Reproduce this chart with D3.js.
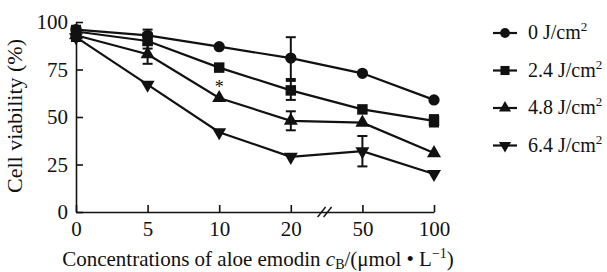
<!DOCTYPE html>
<html>
<head>
<meta charset="utf-8">
<script src="https://cdn.jsdelivr.net/npm/d3@7"></script>
<style>
  body { margin: 0; background: #fff; }
  text { font-family: 'Liberation Serif', 'DejaVu Serif', serif; fill: #111; }
</style>
</head>
<body>
<svg id="chart" width="607" height="272"></svg>
<script>
const concentrations = ['0', '5', '10', '20', '50', '100'];
const seriesNames = ['0', '2.4', '4.8', '6.4'];
const yTicks = [0, 25, 50, 75, 100];

const viability0 = [96, 93, 87, 81, 73, 59];
const viability24 = [95, 90, 76, 64, 54, 48];
const viability48 = [93, 83, 60, 48, 47, 31];
const viability64 = [92, 67, 42, 29, 32, 20];

const error0 = [2, 3, 0, 11, 0, 0];
const error24 = [2, 4, 0, 5, 0, 3];
const error48 = [2, 5, 0, 5, 0, 0];
const error64 = [2, 0, 0, 0, 8, 0];

const series = [
  {name: seriesNames[0], values: viability0, errors: error0, symbol: d3.symbolCircle, size: 100, rot: 0},
  {name: seriesNames[1], values: viability24, errors: error24, symbol: d3.symbolSquare, size: 110, rot: 0},
  {name: seriesNames[2], values: viability48, errors: error48, symbol: d3.symbolTriangle, size: 85, rot: 0},
  {name: seriesNames[3], values: viability64, errors: error64, symbol: d3.symbolTriangle, size: 85, rot: 180}
];

const svg = d3.select('#chart');
const margin = {left: 76, top: 22, right: 173, bottom: 60};
const width = 607 - margin.left - margin.right,
  height = 272 - margin.top - margin.bottom;

const x = d3.scalePoint().domain(concentrations).range([0, width]);
const y = d3.scaleLinear().domain([0, 100]).range([height, 0]);

const g = svg.append('g')
  .attr('transform', 'translate(' + margin.left + ',' + margin.top + ')');

// axes, ticks pointing inward
const xAxis = g.append('g')
  .attr('transform', 'translate(0,' + height + ')')
  .call(d3.axisBottom(x).tickSizeInner(-7).tickSizeOuter(0).tickPadding(9));
const yAxis = g.append('g')
  .call(d3.axisLeft(y).tickValues(yTicks).tickSizeInner(-7).tickSizeOuter(0).tickPadding(8));

[xAxis, yAxis].forEach(function(a) {
  a.select('.domain').attr('stroke', '#111').attr('stroke-width', 1.6);
  a.selectAll('.tick line').attr('stroke', '#111').attr('stroke-width', 1.6);
  a.selectAll('.tick text').style('font-family', "'Liberation Serif', serif").style('font-size', '21px').attr('fill', '#111');
});

// axis break between 20 and 50
const bx = (x('20') + x('50')) / 2 - 2;
[-3, 3].forEach(function(o) {
  g.append('line')
    .attr('x1', bx + o - 4).attr('y1', height + 5)
    .attr('x2', bx + o + 4).attr('y2', height - 5)
    .attr('stroke', '#111').attr('stroke-width', 1.4);
});

const line = d3.line()
  .x(function(d, i) { return x(concentrations[i]); })
  .y(function(d) { return y(d); });

series.forEach(function(s) {
  g.append('path')
    .datum(s.values)
    .attr('fill', 'none')
    .attr('stroke', '#111')
    .attr('stroke-width', 2.2)
    .attr('d', line);

  s.values.forEach(function(v, i) {
    const e = s.errors[i];
    if (e > 0) {
      const cx = x(concentrations[i]);
      g.append('line').attr('x1', cx).attr('x2', cx)
        .attr('y1', y(v + e)).attr('y2', y(v - e))
        .attr('stroke', '#111').attr('stroke-width', 2);
      [v + e, v - e].forEach(function(c) {
        g.append('line').attr('x1', cx - 5).attr('x2', cx + 5)
          .attr('y1', y(c)).attr('y2', y(c))
          .attr('stroke', '#111').attr('stroke-width', 2);
      });
    }
  });

  g.selectAll(null)
    .data(s.values)
    .enter().append('path')
    .attr('d', d3.symbol().type(s.symbol).size(s.size))
    .attr('fill', '#111')
    .attr('transform', function(d, i) {
      return 'translate(' + x(concentrations[i]) + ',' + y(d) + ') rotate(' + s.rot + ')';
    });
});

// significance mark
g.append('text')
  .attr('x', x('10'))
  .attr('y', y((viability24[2] + viability48[2]) / 2) + 10)
  .attr('text-anchor', 'middle')
  .style('font-size', '18px')
  .text('*');

// axis titles
const xt = svg.append('text')
  .attr('x', margin.left + width / 2 + 3)
  .attr('y', 266)
  .attr('text-anchor', 'middle')
  .style('font-size', '21px');
xt.append('tspan').text('Concentrations of aloe emodin ');
xt.append('tspan').style('font-style', 'italic').text('c');
xt.append('tspan').attr('dy', 3).style('font-size', '14px').text('B');
xt.append('tspan').attr('dy', -3).text('/(\u03bcmol \u2022 L');
xt.append('tspan').attr('dy', -8).style('font-size', '14px').text('\u22121');
xt.append('tspan').attr('dy', 8).text(')');

svg.append('text')
  .attr('transform', 'translate(22,' + (margin.top + height / 2 - 1) + ') rotate(-90)')
  .attr('text-anchor', 'middle')
  .style('font-size', '22px')
  .text('Cell viability (%)');

// legend
const legend = svg.append('g').attr('transform', 'translate(493,33)');
series.forEach(function(s, i) {
  const row = legend.append('g').attr('transform', 'translate(0,' + i * 37.5 + ')');
  row.append('line').attr('x1', 0).attr('x2', 24).attr('y1', 0).attr('y2', 0)
    .attr('stroke', '#111').attr('stroke-width', 2.2);
  row.append('path')
    .attr('d', d3.symbol().type(s.symbol).size(s.size * 0.75))
    .attr('fill', '#111')
    .attr('transform', 'translate(12,0) rotate(' + s.rot + ')');
  const t = row.append('text').attr('x', 35).attr('y', 6).style('font-size', '20px');
  t.append('tspan').text(s.name + ' J/cm');
  t.append('tspan').attr('dy', -8).style('font-size', '13px').text('2');
});
</script>
</body>
</html>
